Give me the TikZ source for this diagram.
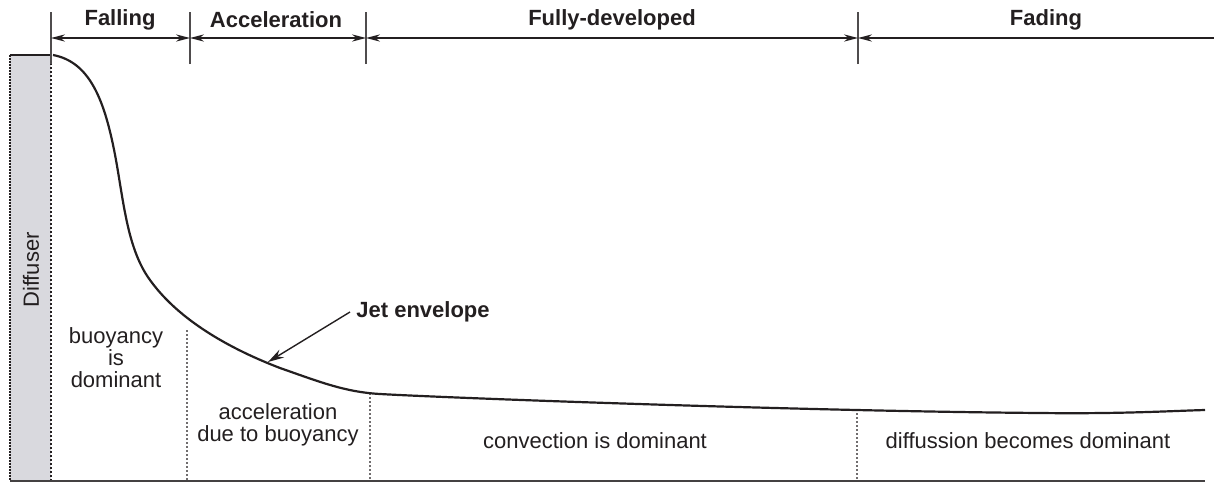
\documentclass[tikz,border=0pt]{standalone}
\usepackage{fontspec}
\setmainfont{Liberation Sans}
\usetikzlibrary{arrows.meta}
\definecolor{ink}{HTML}{231F20}
\definecolor{diffgray}{HTML}{D9D9DE}
\tikzset{
  lbl/.style={font=\fontsize{11}{13}\selectfont\bfseries, text=ink, inner sep=0pt},
  body/.style={font=\fontsize{11}{13}\selectfont, text=ink, inner sep=0pt, align=center},
  tickline/.style={draw=ink!80, line width=0.7pt},
  dimline/.style={draw=ink, line width=0.7pt, {Stealth[length=7pt,width=3.6pt]}-{Stealth[length=7pt,width=3.6pt]}},
  dimhalf/.style={draw=ink, line width=0.7pt, {Stealth[length=7pt,width=3.6pt]}-},
  zoneline/.style={draw=ink!65, line width=1pt, dash pattern=on 1pt off 1pt},
  envelope/.style={draw=ink, line width=1.1pt},
  pointer/.style={draw=ink, line width=0.7pt, -{Stealth[length=8pt,width=4.5pt]}},
}
\begin{document}
\begin{tikzpicture}[x=0.5pt,y=-0.5pt]
\useasboundingbox (0,0) rectangle (1219,482);
% diffuser
\fill[diffgray] (10,55) rectangle (51,480);
\draw[ink, line width=0.9pt] (10,55) -- (51,55);
\draw[ink, line width=0.9pt, dash pattern=on 1pt off 0.5pt] (10,55) -- (10,480);
\draw[zoneline, draw=ink] (51,55) -- (51,480);
\node[body, rotate=90] (diff) at (31,270) {Diffuser};
% bottom line
\draw[ink!85, line width=1pt] (10,481) -- (1205,481);
% ticks
\coordinate (t1) at (51,38);
\coordinate (t2) at (190,38);
\coordinate (t3) at (366,38);
\coordinate (t4) at (858,38);
\coordinate (t5) at (1214,38);
\foreach \t in {t1,t2,t3,t4}{
  \draw[tickline] ([yshift=-13]\t) -- ([yshift=13]\t);
}
\draw[dimline] (t1) -- (t2);
\draw[dimline] (t2) -- (t3);
\draw[dimline] (t3) -- (t4);
\draw[dimhalf] (t4) -- (t5);
% phase labels
\node[lbl] (falling) at (120,20) {Falling};
\node[lbl] (accel) at (276,20) {Acceleration};
\node[lbl] (fully) at (612,20) {Fully-developed};
\node[lbl] (fading) at (1046,20) {Fading};
% zone separators
\draw[zoneline] (187,330) -- (187,480);
\draw[zoneline] (370,393) -- (370,480);
\draw[zoneline] (857,413) -- (857,480);
% envelope
\draw[envelope] (53,55) .. controls (90,62) and (105,100) .. (116,160)
  .. controls (124,205) and (128,250) .. (150,280)
  .. controls (175,315) and (220,345) .. (280,368)
  .. controls (320,382) and (345,392) .. (380,394)
  .. controls (450,398) and (800,411) .. (1040,413)
  .. controls (1120,414) and (1170,411) .. (1205,410);
% jet envelope label
\coordinate (jettip) at (268,362);
\node[lbl, anchor=west] (jet) at (356,312) {Jet envelope};
\draw[pointer] ([xshift=-3]jet.west) -- (jettip);
% zone texts
\node[body] (buoy) at (116,358) {buoyancy\\[-2pt]is\\[-2pt]dominant};
\node[body] (accbuoy) at (278,425) {acceleration\\[-2pt]due to buoyancy};
\node[body] (conv) at (595,441) {convection is dominant};
\node[body] (diffus) at (1028,441) {diffussion becomes dominant};
\end{tikzpicture}
\end{document}
